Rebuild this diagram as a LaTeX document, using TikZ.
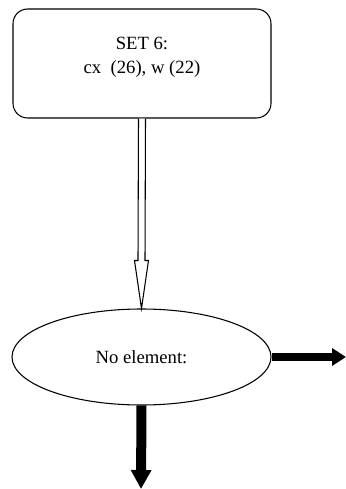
\documentclass[tikz,border=0pt]{standalone}
\usepackage{fontspec}
\setmainfont{Liberation Serif}
\usetikzlibrary{shapes.geometric,arrows.meta,calc}
\begin{document}
\begin{tikzpicture}[x=0.75pt,y=-0.75pt,
  setbox/.style={draw,line width=0.8pt,rounded corners=11pt,minimum width=193.5pt,minimum height=81.75pt,inner sep=0pt},
  txt/.style={font=\fontsize{14}{18}\selectfont,align=center,inner sep=0pt},
  oval/.style={draw,ellipse,line width=0.8pt,minimum width=194.25pt,minimum height=72pt,inner sep=0pt,font=\fontsize{14}{18}\selectfont},
  hollow/.style={draw,fill=white,line width=0.8pt,line join=miter},
  heavyright/.style={line width=6.4pt,-{Triangle[length=10.5pt,width=12.75pt]}},
  heavydown/.style={line width=7.5pt,-{Triangle[length=14.25pt,width=14.6pt]}}]
\useasboundingbox (0,0) rectangle (346,489);
\node[setbox] (set) at (142,63.5) {};
\node[txt] (settext) at (142,57) {SET 6:\\cx~ (26), w (22)};
\node[oval] (noel) at (141.5,357) {No element:};
\coordinate (a0) at (set.south);
\coordinate (tip) at (noel.north);
\draw[hollow] ($(a0)+(-3.5,0)$) -- ($(tip)+(-3.5,-48)$) -- ($(tip)+(-7,-48)$) -- (tip) -- ($(tip)+(7,-48)$) -- ($(tip)+(3.5,-48)$) -- ($(a0)+(3.5,0)$);
\coordinate (rend) at (346,357);
\coordinate (dend) at (141,489);
\draw[heavyright] (noel.east) -- (rend);
\draw[heavydown] (noel.south) -- (dend);
\end{tikzpicture}
\end{document}
